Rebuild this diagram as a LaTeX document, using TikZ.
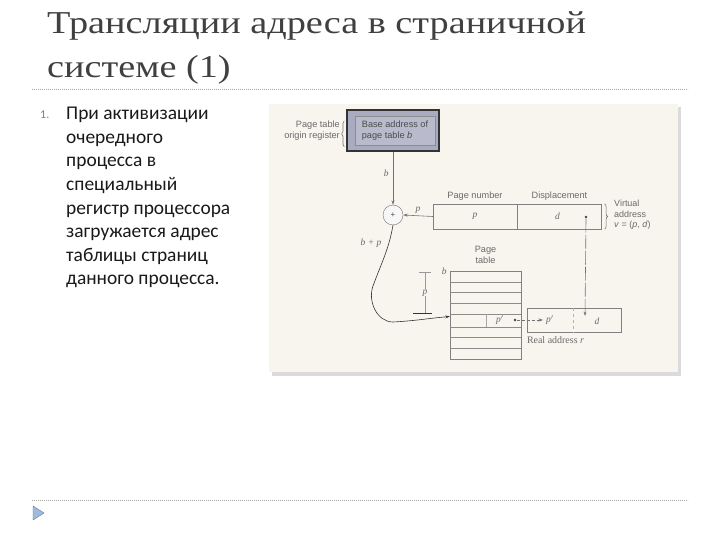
\documentclass[tikz,border=0pt]{standalone}
\usepackage{fontspec}
\setmainfont{Carlito}
\newfontfamily\titlefont[FakeStretch=1.2]{Liberation Serif}
\newfontfamily\figfont{Liberation Sans}
\newfontfamily\figserif{Liberation Serif}
\usetikzlibrary{positioning,arrows.meta,decorations.pathreplacing}
\definecolor{titlegray}{HTML}{404040}
\definecolor{paper}{HTML}{F7F5EE}
\definecolor{regfill}{HTML}{A9ABC0}
\definecolor{reginner}{HTML}{B9BBCC}
\definecolor{figink}{HTML}{6A6A6A}
\definecolor{bulletblue}{HTML}{9DBBDD}

\begin{document}
\begin{tikzpicture}[x=1bp, y=-1bp,
  title/.style={anchor=base west, inner sep=0pt, text=titlegray, font=\titlefont\fontsize{32}{36}\selectfont},
  bodytxt/.style={anchor=base west, inner sep=0pt, text=black!90, align=left, font=\fontsize{19.5}{23.7}\selectfont},
  figtxt/.style={inner sep=0pt, text=figink, align=center, font=\figfont\fontsize{9.2}{10.8}\selectfont},
  var/.style={inner sep=0pt, text=figink, font=\figserif\itshape\fontsize{9.5}{10}\selectfont},
  field/.style={draw=black!50, minimum height=25bp, inner sep=0pt},
  dotmark/.style={circle, fill=black!75, minimum size=2.8bp, inner sep=0pt},
  thin/.style={draw=black!55, line width=0.6bp},
  >={Stealth[length=4.5bp, width=3bp]}
]
\useasboundingbox (0,0) rectangle (720,540);
\fill[white] (0,0) rectangle (720,540);

% title and rules
\node[title] (title1) at (47,34) {Трансляции адреса в страничной};
\node[title] (title2) at (47,78) {системе (1)};
\draw[black!35, dash pattern=on 1bp off 1bp] (32,89.5) -- (688,89.5);
\draw[black!35, dash pattern=on 1bp off 1bp] (32,500) -- (688,500);
\filldraw[fill=bulletblue, draw=black!35!bulletblue] (33,506) -- (44,513) -- (33,520) -- cycle;

% numbered item
\node[anchor=base west, inner sep=0pt, text=black!50, font=\fontsize{12}{14}\selectfont] (num) at (40,119) {1.};
\node[bodytxt] (item) at (66,285) {При активизации\\очередного\\процесса в\\специальный\\регистр процессора\\загружается адрес\\таблицы страниц\\данного процесса.};

% figure background
\fill[black!14] (272,107) rectangle (681,376);
\fill[paper] (269,104) rectangle (678,372);

% page table origin register
\node[draw=black!80, line width=1.6bp, fill=regfill, minimum width=92bp, minimum height=41bp] (reg) at (393,130.5) {};
\node[draw=black!45, fill=reginner, minimum width=80bp, minimum height=29bp, figtxt, text=black!70, align=left] (base) at (395,130.5) {Base address of\\page table \textit{b}};
\node[figtxt, anchor=east, align=right] (origin) at (340,130.5) {Page table\\origin register};
\draw[thin, decorate, decoration={brace, amplitude=2.5bp}] ([xshift=-2bp]reg.south west) ++(0,-5) -- ++(0,-26);

% adder
\node[circle, draw=black!55, fill=black!3, minimum size=20bp, inner sep=0pt, text=black!70, font=\figfont\fontsize{8}{8}\selectfont] (add) at (393,215) {+};
\draw[thin, ->] (reg.south) -- node[var, left=4bp, pos=0.4] {b} (add.north);

% virtual address
\node[field, minimum width=84bp] (pnum) at (475,216.5) {};
\node[field, minimum width=84bp, right=0pt of pnum] (dnum) {};
\node[var] (pvar) at (pnum.center) {p};
\node[var] (dvar) at ([xshift=-2bp]dnum.center) {d};
\node[dotmark] (vdot) at (586,217) {};
\node[figtxt, above=3bp of pnum] (pnumlbl) {Page number};
\node[figtxt, above=3bp of dnum] (displbl) {Displacement};
\draw[thin, decorate, decoration={brace, amplitude=3bp}] ([xshift=3bp]dnum.north east) -- ([xshift=3bp]dnum.south east);
\node[figtxt, anchor=west, align=left, font=\figfont\fontsize{9}{10.5}\selectfont] (virt) at (614,215) {Virtual\\address\\\textit{v} = (\textit{p}, \textit{d})};
\draw[thin, ->] (pnum.west) -- node[var, above=2bp] {p} (add.east);

% page table
\node[draw=black!50, minimum width=71bp, minimum height=88bp, inner sep=0pt] (ptab) at (485.5,315) {};
\foreach \y in {282,292,303,314,327,337,348}
  \draw[black!45, line width=0.5bp] (ptab.west |- 0,\y) -- (ptab.east |- 0,\y);
\coordinate (prow) at (ptab.west |- 0,320.5);
\draw[black!35, line width=0.5bp] (486,314) -- (486,327);
\node[var] (pprime) at (500,320) {p$'$};
\node[dotmark] (pdot) at (515,320) {};
\node[figtxt, above=7bp of ptab] (ptablbl) {Page\\table};
\node[var, anchor=east] (bmark) at ([xshift=-3bp]ptab.north west) {b};

% offset p into the table
\node[var] (poff) at (425,293) {p};
\draw[black!40, line width=0.8bp] (419,272) -- (431,272);
\draw[black!40, line width=0.8bp] (425,272) -- (poff.north);
\draw[black!40, line width=0.8bp] (poff.south) -- (425,313);
\draw[black!80, line width=0.8bp] (413,313.5) -- (432,313.5);

% b + p path to the table entry
\coordinate (bend1) at (373,286);
\coordinate (bend2) at (393,322);
\node[var] (bplus) at (371,243) {b + p};
\draw[black!80, line width=0.6bp, ->] (add.south) to[out=-100, in=70] (bend1) to[out=-110, in=180] (bend2) to[out=3, in=185] ([yshift=4bp]prow);

% real address
\node[field, minimum width=46bp, minimum height=24bp, draw=none] (rp) at (550,320) {};
\node[field, minimum width=48bp, minimum height=24bp, draw=none, right=0pt of rp] (rd) {};
\draw[black!50] (rp.north west) rectangle (rd.south east);
\draw[black!30, dashed] (rp.north east) -- (rp.south east);
\node[var] (rpvar) at (550,320) {p$'$};
\node[var] (rdvar) at (597,321) {d};
\node[inner sep=0pt, text=figink, anchor=north west, font=\figserif\fontsize{10}{11}\selectfont] (rlbl) at ([yshift=-4bp]rp.south west) {Real address \textit{r}};
\coordinate (dtip) at (585,316);
\coordinate (ptip) at (543,320);
\draw[black!55, line width=0.6bp, dash pattern=on 14bp off 2bp, ->] (vdot.south) -- (dtip);
\draw[black!55, line width=0.6bp, densely dashed, ->] (pdot.east) -- (ptip);
\end{tikzpicture}
\end{document}
